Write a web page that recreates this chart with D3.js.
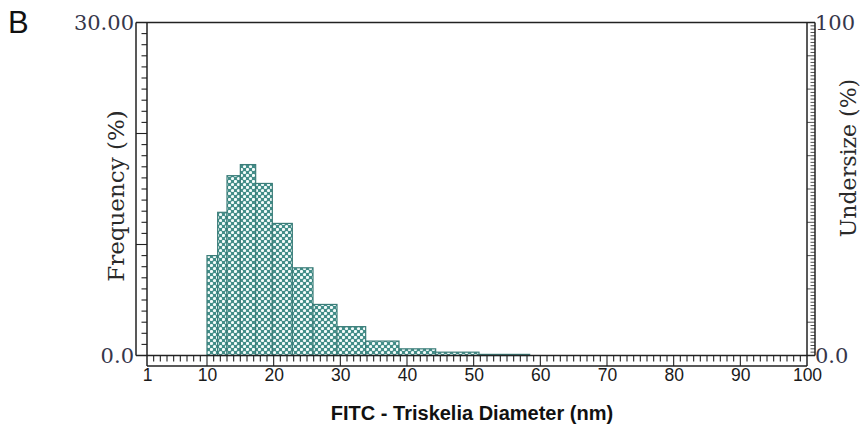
<!DOCTYPE html>
<html>
<head>
<meta charset="utf-8">
<script src="https://cdn.jsdelivr.net/npm/d3@7"></script>
<style>
  html, body { margin: 0; padding: 0; background: #fff; }
  svg { display: block; }
</style>
</head>
<body>
<svg id="chart" width="864" height="432"></svg>
<script>
// Size distribution: bin edges (nm) and frequency (%) per bin
const binEdges = [10.0, 11.6, 13.0, 15.0, 17.3, 19.8, 22.8, 25.9, 29.5, 33.8, 38.8, 44.3, 50.8, 58.4];
const frequency = [9.0, 12.9, 16.2, 17.2, 15.5, 11.9, 7.9, 4.6, 2.6, 1.3, 0.6, 0.3, 0.1];
const xTickLabels = [1, 10, 20, 30, 40, 50, 60, 70, 80, 90, 100];
const leftTickLabels = [0, 30];
const rightTickLabels = [0, 100];

const bins = frequency.map((f, i) => ({ x0: binEdges[i], x1: binEdges[i + 1], f }));

const svg = d3.select("#chart");
const x = d3.scaleLinear().domain([1, 100]).range([147, 807]);
const yL = d3.scaleLinear().domain([0, 30]).range([355.5, 22.5]);
const yR = d3.scaleLinear().domain([0, 100]).range([355.5, 22.5]);

const ink = "#222";
const outerL = 136, innerL = x.range()[0];
const innerR = x.range()[1], outerR = 815;
const axisY = yL(0), rulerBottom = 366;

// Dotted fill for the bars
const defs = svg.append("defs");
const pat = defs.append("pattern")
  .attr("id", "dots").attr("patternUnits", "userSpaceOnUse")
  .attr("width", 6).attr("height", 6);
pat.append("rect").attr("width", 6).attr("height", 6).attr("fill", "#428d88");
[[1.5, 1.5], [4.5, 4.5]].forEach(([cx, cy]) =>
  pat.append("circle").attr("cx", cx).attr("cy", cy).attr("r", 1.6)
    .attr("fill", "#f4fcfb"));

// Bars
svg.append("g").selectAll("rect").data(bins).join("rect")
  .attr("x", d => x(d.x0))
  .attr("y", d => yL(d.f))
  .attr("width", d => x(d.x1) - x(d.x0))
  .attr("height", d => yL(0) - yL(d.f))
  .attr("fill", "url(#dots)")
  .attr("stroke", "#3b7d79")
  .attr("stroke-width", 1.2);

// Frame and rulers
const frame = svg.append("g").attr("stroke", ink).attr("stroke-width", 1.5).attr("fill", "none");
frame.append("line").attr("x1", outerL).attr("x2", outerR).attr("y1", yL(30)).attr("y2", yL(30));
frame.append("line").attr("x1", outerL).attr("x2", outerL).attr("y1", yL(30)).attr("y2", axisY);
frame.append("line").attr("x1", innerL).attr("x2", innerL).attr("y1", yL(30)).attr("y2", rulerBottom);
frame.append("line").attr("x1", innerR).attr("x2", innerR).attr("y1", yL(30)).attr("y2", rulerBottom);
frame.append("line").attr("x1", outerR).attr("x2", outerR).attr("y1", yL(30)).attr("y2", axisY);
frame.append("line").attr("x1", outerL).attr("x2", outerR).attr("y1", axisY).attr("y2", axisY);
frame.append("line").attr("x1", innerL).attr("x2", innerR).attr("y1", rulerBottom).attr("y2", rulerBottom);

const ticks = svg.append("g").attr("stroke", ink).attr("stroke-width", 1.1);
// left ruler: every 1 %, long at 10s
ticks.append("g").selectAll("line").data(d3.range(1, 30)).join("line")
  .attr("x1", d => d % 10 === 0 ? outerL : innerL - 5.5).attr("x2", innerL)
  .attr("y1", d => yL(d)).attr("y2", d => yL(d));
// right ruler: every 1 %, long at 10s
ticks.append("g").selectAll("line").data(d3.range(1, 100)).join("line")
  .attr("x1", d => d % 10 === 0 ? innerR : outerR - 4.5).attr("x2", outerR)
  .attr("y1", d => yR(d)).attr("y2", d => yR(d)).attr("stroke-width", 0.8);
// bottom ruler: every 1 nm, long at 10s
ticks.append("g").selectAll("line").data(d3.range(2, 100)).join("line")
  .attr("x1", d => x(d)).attr("x2", d => x(d))
  .attr("y1", axisY).attr("y2", d => d % 10 === 0 ? rulerBottom : axisY + 6);

// Tick labels
const serif = "'DejaVu Serif', 'Liberation Serif', serif";
const sans = "'Liberation Sans', Arial, sans-serif";
const leftAxis = svg.append("g").attr("transform", `translate(${outerL},0)`)
  .call(d3.axisLeft(yL).tickValues(leftTickLabels).tickSize(0).tickPadding(2)
    .tickFormat(d => d === 30 ? "30.00" : "0.0"));
const rightAxis = svg.append("g").attr("transform", `translate(${outerR},0)`)
  .call(d3.axisRight(yR).tickValues(rightTickLabels).tickSize(0).tickPadding(0)
    .tickFormat(d => d === 100 ? "100" : "0.0"));
[leftAxis, rightAxis].forEach(g => {
  g.select(".domain").remove();
  g.selectAll("text").attr("font-family", serif).attr("font-size", 21).attr("fill", "#36364a");
});

const bottomAxis = svg.append("g").attr("transform", `translate(0,${rulerBottom})`)
  .call(d3.axisBottom(x).tickValues(xTickLabels).tickSize(0).tickPadding(3));
bottomAxis.select(".domain").remove();
bottomAxis.selectAll("text").attr("font-family", sans)
  .attr("font-size", 17.5).attr("fill", "#1a1a1a");

// Titles
svg.append("text").attr("transform", "translate(124,196) rotate(-90)")
  .attr("text-anchor", "middle").attr("font-family", serif).attr("font-size", 23)
  .attr("fill", "#2a2a2a").text("Frequency (%)");
svg.append("text").attr("transform", "translate(856,158) rotate(-90)")
  .attr("text-anchor", "middle").attr("font-family", serif).attr("font-size", 22)
  .attr("fill", "#2a2a2a").text("Undersize (%)");
svg.append("text").attr("x", 472).attr("y", 420)
  .attr("text-anchor", "middle").attr("font-family", sans)
  .attr("font-weight", "bold").attr("font-size", 20).attr("fill", "#111")
  .text("FITC - Triskelia Diameter (nm)");
svg.append("text").attr("x", 8).attr("y", 33)
  .attr("font-family", sans).attr("font-size", 31)
  .attr("fill", "#111").text("B");
</script>
</body>
</html>
